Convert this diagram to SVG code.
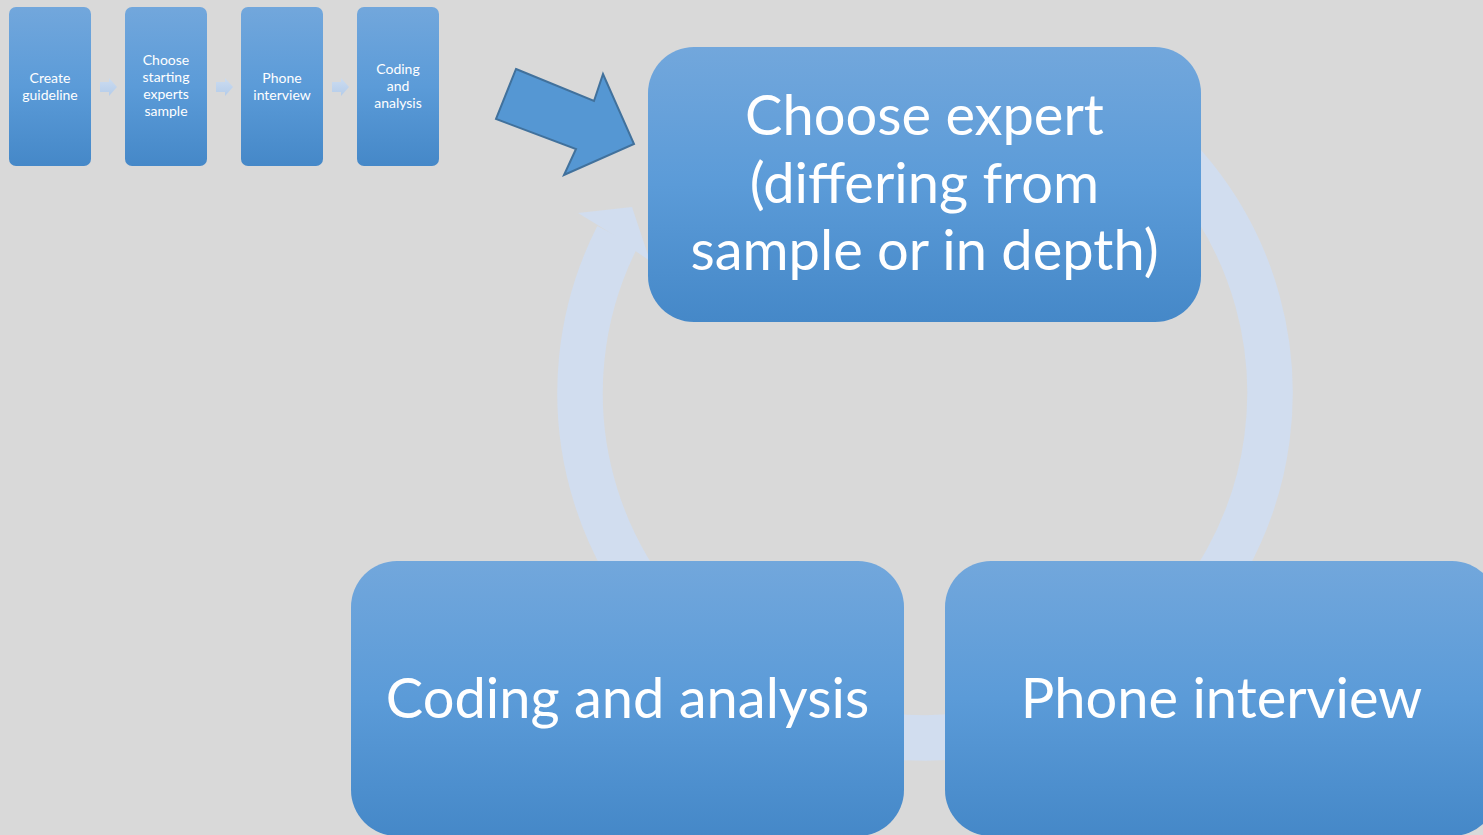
<svg xmlns="http://www.w3.org/2000/svg" width="1483" height="835" viewBox="0 0 1483 835">
<defs>
<linearGradient id="boxGrad" x1="0" y1="0" x2="0" y2="1">
<stop offset="0" stop-color="#72A7DC"/>
<stop offset="0.5" stop-color="#5B9BD8"/>
<stop offset="1" stop-color="#4588C8"/>
</linearGradient>
<linearGradient id="smallArrowGrad" x1="0" y1="0" x2="0" y2="1">
<stop offset="0" stop-color="#CCDCF0"/>
<stop offset="1" stop-color="#B4CCEA"/>
</linearGradient>
<style>
.box{fill:url(#boxGrad);}
.small{fill:url(#boxGrad);}
.t{font-family:Lato,"Noto Sans",sans-serif;fill:#FFFFFF;text-anchor:middle;}
.big{font-size:56px;}
.sm{font-size:14px;}
.ring{fill:none;stroke:#D1DDEF;stroke-width:45.5;}
.ringHead{fill:#D1DDEF;}
.sarrow{fill:url(#smallArrowGrad);}
</style>
</defs>
<rect x="0" y="0" width="1483" height="835" fill="#D9D9D9"/>

<g id="connectors">
<path class="ring" d="M 1097.5 94.2 A 345 345 0 1 1 617.6 236.4"/>
<polygon class="ringHead" points="596,224 578,213 632,207 650,261 634,250 617,237"/>
<path class="sarrow" d="M100 82 H109 V78 L117 87 L109 96 V92 H100 Z"/>
<path class="sarrow" d="M216 82 H225 V78 L233 87 L225 96 V92 H216 Z"/>
<path class="sarrow" d="M332 82 H341 V78 L349 87 L341 96 V92 H332 Z"/>
<polygon points="516,69 594,101 603,74 634,144 564,175 576,149 496,119" fill="#5597D3" stroke="#41719C" stroke-width="2" stroke-linejoin="miter"/>
</g>

<g id="s1">
<rect class="small" x="9" y="7" width="82" height="159" rx="7"/>
<text class="t sm" x="50" y="83">Create</text>
<text class="t sm" x="50" y="100">guideline</text>
</g>
<g id="s2">
<rect class="small" x="125" y="7" width="82" height="159" rx="7"/>
<text class="t sm" x="166" y="65">Choose</text>
<text class="t sm" x="166" y="82">starting</text>
<text class="t sm" x="166" y="99">experts</text>
<text class="t sm" x="166" y="116">sample</text>
</g>
<g id="s3">
<rect class="small" x="241" y="7" width="82" height="159" rx="7"/>
<text class="t sm" x="282" y="83">Phone</text>
<text class="t sm" x="282" y="100">interview</text>
</g>
<g id="s4">
<rect class="small" x="357" y="7" width="82" height="159" rx="7"/>
<text class="t sm" x="398" y="74">Coding</text>
<text class="t sm" x="398" y="91">and</text>
<text class="t sm" x="398" y="108">analysis</text>
</g>

<g id="choose">
<rect class="box" x="648" y="47" width="553" height="275" rx="46"/>
<text class="t big" x="924.5" y="135">Choose expert</text>
<text class="t big" x="924.5" y="203">(differing from</text>
<text class="t big" x="924.5" y="270">sample or in depth)</text>
</g>
<g id="coding">
<rect class="box" x="351" y="561" width="553" height="275" rx="46"/>
<text class="t big" x="627.5" y="718">Coding and analysis</text>
</g>
<g id="phone">
<rect class="box" x="945" y="561" width="553" height="275" rx="46"/>
<text class="t big" x="1221.5" y="718">Phone interview</text>
</g>
</svg>
